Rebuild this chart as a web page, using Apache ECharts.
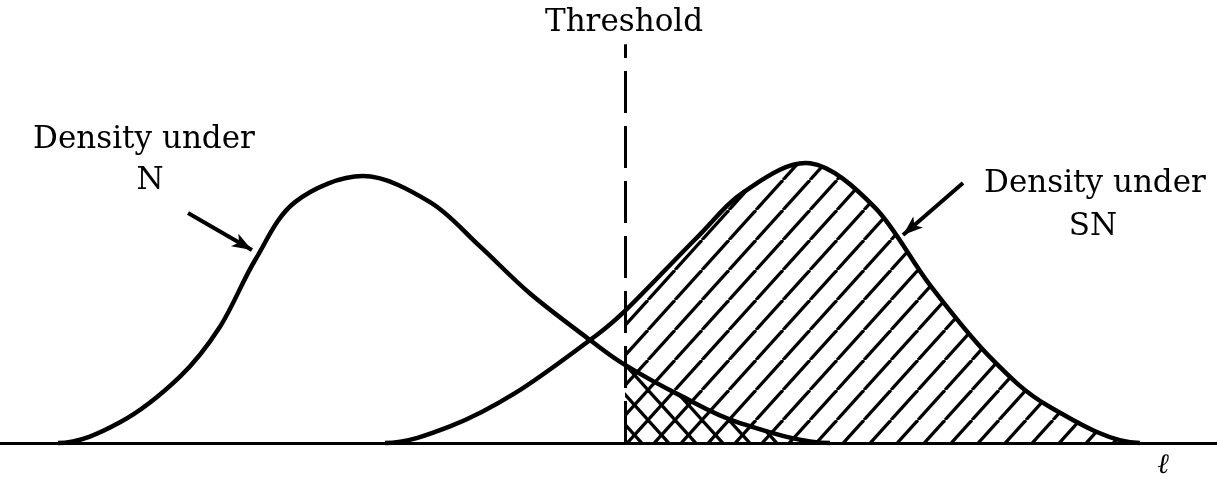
<!DOCTYPE html>
<html>
<head>
<meta charset="utf-8">
<script src="https://cdn.jsdelivr.net/npm/echarts@6/dist/echarts.min.js"></script>
<style>
  html, body { margin: 0; padding: 0; background: #fff; }
  #chart { width: 1217px; height: 480px; }
</style>
</head>
<body>
<div id="chart"></div>
<script>
// ℓ values (x axis) and densities
const nX = [0.58, 1.2, 1.8, 2.2, 2.55, 2.95, 3.63, 4.3, 4.8, 5.3, 5.9, 6.25, 6.8, 7.4, 8.3]
const nY = [0, 0.075, 0.24, 0.42, 0.66, 0.87, 0.964, 0.87, 0.71, 0.54, 0.372, 0.282, 0.172, 0.072, 0]
const snX = [3.85, 4.5, 5.15, 5.9, 6.25, 6.95, 7.45, 8.1, 8.75, 9.3, 9.9, 10.5, 11.4]
const snY = [0, 0.06, 0.18, 0.372, 0.477, 0.735, 0.91, 1.01, 0.85, 0.57, 0.31, 0.13, 0]
const threshold = 6.25
const thresholdTop = 1.44
// label arrows: [from, to] in ℓ / density units
const arrowN = [[1.88, 0.831], [2.52, 0.697]]
const arrowSN = [[9.63, 0.939], [9.03, 0.751]]

const zip = (xs, ys) => xs.map((x, i) => [x, ys[i]])
const nData = zip(nX, nY)
const snData = zip(snX, snY)

// hatch tile: dir 1 = '/', dir -1 = '\'
function hatch(dir) {
  const w = 27, h = 30
  const c = document.createElement('canvas')
  c.width = w
  c.height = h
  const ctx = c.getContext('2d')
  ctx.strokeStyle = '#000'
  ctx.lineWidth = 3.2
  for (let k = -1; k <= 1; k++) {
    ctx.beginPath()
    if (dir > 0) {
      ctx.moveTo(k * w, h)
      ctx.lineTo(k * w + w, 0)
    } else {
      ctx.moveTo(k * w, 0)
      ctx.lineTo(k * w + w, h)
    }
    ctx.stroke()
  }
  return c
}

// catmull-rom through the points, flat at both ends of the curve
function spline(pts, from) {
  const n = pts.length
  const at = i => {
    if (i < 0) return [2 * pts[0][0] - pts[1][0], pts[1][1]]
    if (i >= n) return [2 * pts[n - 1][0] - pts[n - 2][0], pts[n - 2][1]]
    return pts[i]
  }
  let d = 'M' + pts[from][0] + ' ' + pts[from][1]
  for (let i = from; i < n - 1; i++) {
    const p0 = at(i - 1), p1 = at(i), p2 = at(i + 1), p3 = at(i + 2)
    const c1 = [p1[0] + (p2[0] - p0[0]) / 6, p1[1] + (p2[1] - p0[1]) / 6]
    const c2 = [p2[0] - (p3[0] - p1[0]) / 6, p2[1] - (p3[1] - p1[1]) / 6]
    d += ' C' + c1.join(' ') + ' ' + c2.join(' ') + ' ' + p2.join(' ')
  }
  return d
}

function curveItem(data, dir) {
  return function (params, api) {
    if (params.dataIndex !== 0) return null
    const pts = data.map(d => api.coord(d))
    const from = data.findIndex(d => d[0] >= threshold)
    const last = pts[pts.length - 1]
    const base = api.coord([threshold, 0])
    return {
      type: 'group',
      children: [
        {
          type: 'path', z2: 1,
          shape: { pathData: spline(pts, from) + ' L' + last[0] + ' ' + base[1] + ' L' + base[0] + ' ' + base[1] + ' Z' },
          style: { fill: { image: hatch(dir), repeat: 'repeat' }, stroke: null }
        },
        {
          type: 'path', z2: 2,
          shape: { pathData: spline(pts, 0) },
          style: { fill: null, stroke: '#000', lineWidth: 4.5, lineJoin: 'round' }
        }
      ]
    }
  }
}

const font = "'DejaVu Serif', serif"
const chart = echarts.init(document.getElementById('chart'))

const option = {
  animation: false,
  backgroundColor: '#fff',
  grid: { left: 0, right: 0, top: 0, bottom: 37 },
  xAxis: {
    type: 'value', min: 0, max: 12.17,
    axisLine: { show: true, lineStyle: { color: '#000', width: 3 } },
    axisTick: { show: false }, axisLabel: { show: false }, splitLine: { show: false }
  },
  yAxis: { type: 'value', min: 0, max: 1.6, show: false },
  graphic: [
    { type: 'text', x: 624, y: 23, style: { text: 'Threshold', font: '31px ' + font, fill: '#000', align: 'center', verticalAlign: 'middle' } },
    { type: 'text', x: 144, y: 140, style: { text: 'Density under', font: '31px ' + font, fill: '#000', align: 'center', verticalAlign: 'middle' } },
    { type: 'text', x: 150, y: 181, style: { text: 'N', font: '31px ' + font, fill: '#000', align: 'center', verticalAlign: 'middle' } },
    { type: 'text', x: 1095, y: 184, style: { text: 'Density under', font: '31px ' + font, fill: '#000', align: 'center', verticalAlign: 'middle' } },
    { type: 'text', x: 1093, y: 227, style: { text: 'SN', font: '31px ' + font, fill: '#000', align: 'center', verticalAlign: 'middle' } },
    { type: 'text', x: 1163, y: 466, style: { text: 'ℓ', font: 'italic 28px ' + font, fill: '#000', align: 'center', verticalAlign: 'middle' } }
  ],
  series: [
    { name: 'SN', type: 'custom', data: snData, silent: true, renderItem: curveItem(snData, 1) },
    { name: 'N', type: 'custom', data: nData, silent: true, renderItem: curveItem(nData, -1) },
    {
      name: 'marks', type: 'line', data: [], silent: true,
      markLine: {
        silent: true, symbol: ['none', 'arrow'], symbolSize: [11, 20],
        label: { show: false },
        lineStyle: { color: '#000', width: 4, type: 'solid' },
        data: [
          [{ coord: arrowN[0] }, { coord: arrowN[1] }],
          [{ coord: arrowSN[0] }, { coord: arrowSN[1] }],
          [
            { coord: [threshold, 0], symbol: 'none', lineStyle: { width: 3, type: [42, 13] } },
            { coord: [threshold, thresholdTop], symbol: 'none' }
          ]
        ]
      }
    }
  ]
}

chart.setOption(option)
</script>
</body>
</html>
